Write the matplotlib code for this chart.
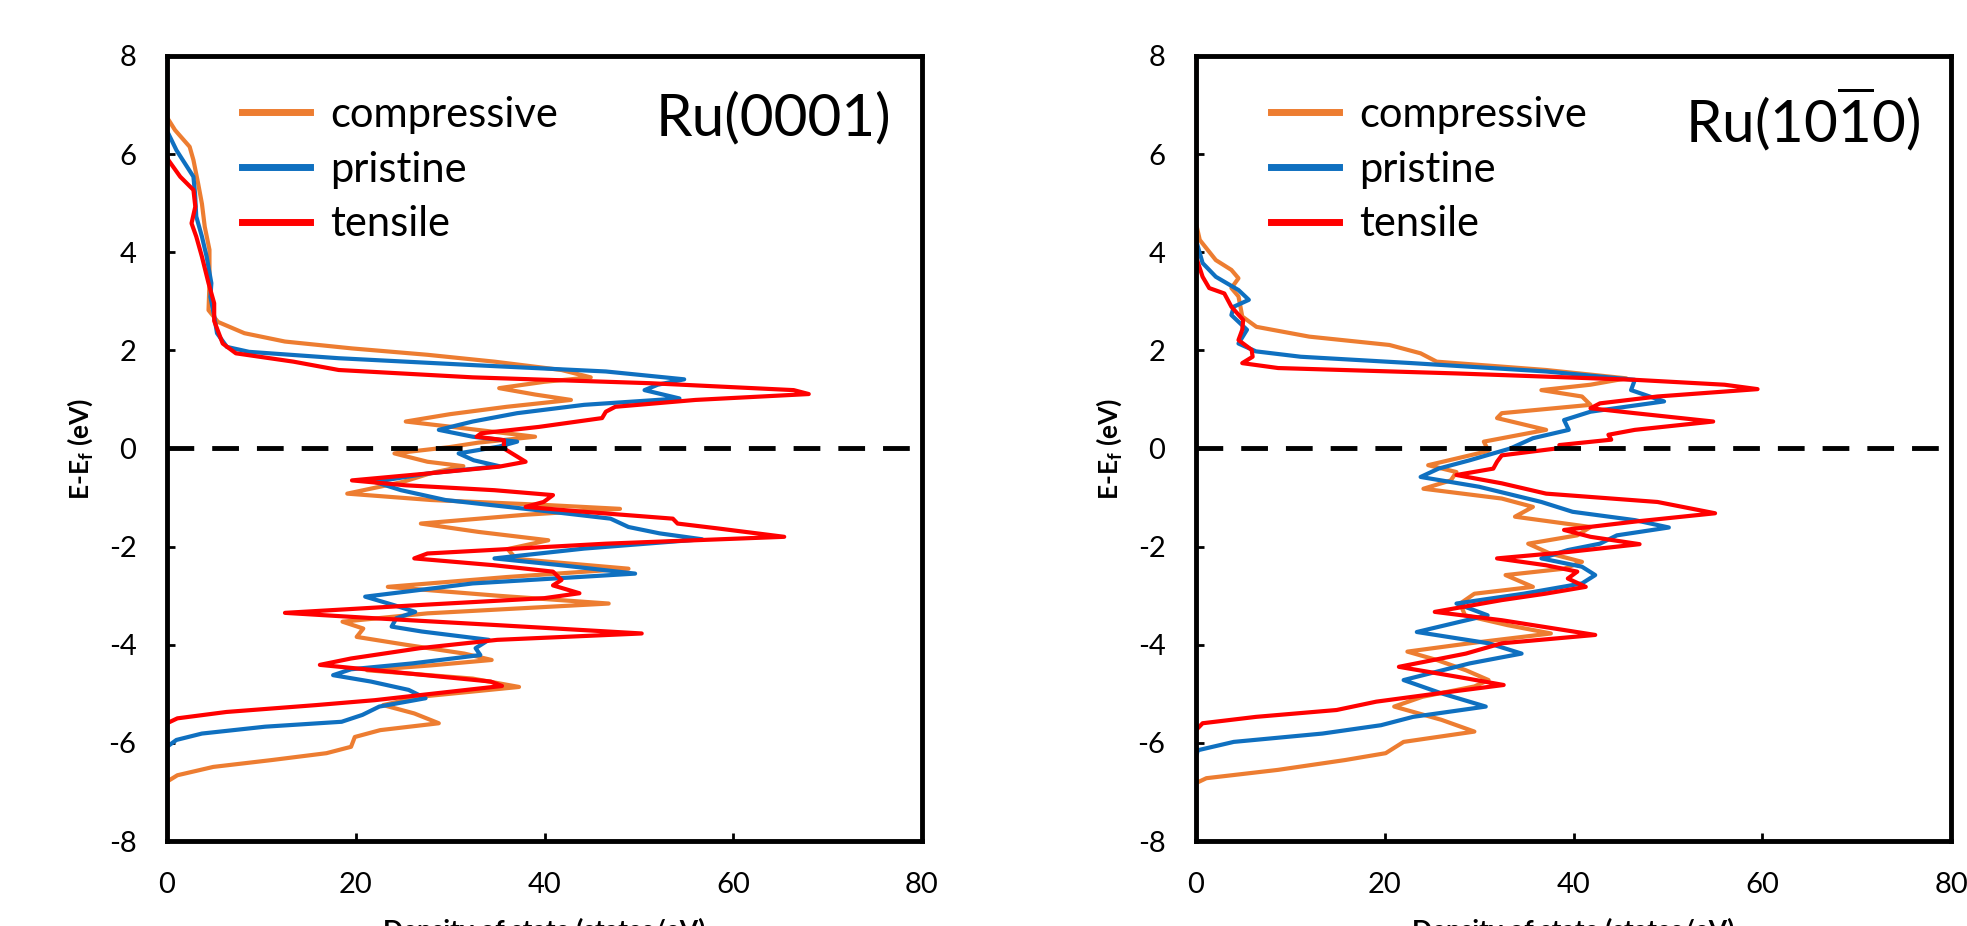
import matplotlib
matplotlib.use("Agg")
import matplotlib.pyplot as plt

plt.rcParams['font.family'] = ['Lato', 'DejaVu Sans']
plt.rcParams['axes.unicode_minus'] = False
plt.rcParams['mathtext.fontset'] = 'custom'
plt.rcParams['mathtext.rm'] = 'Lato'
plt.rcParams['mathtext.bf'] = 'Lato:bold'

# ---- Ru(0001) : energy (eV) and DOS (states/eV) ----
E_0001_comp = [8.0, 6.75, 6.49, 6.15, 5.88, 5.40, 4.99, 4.52, 4.05, 3.37, 2.82, 2.58, 2.35, 2.18,
               2.04, 1.91, 1.77, 1.60, 1.45, 1.36, 1.23, 1.10, 0.99, 0.85, 0.70, 0.55, 0.40, 0.24,
               0.12, 0.03, -0.10, -0.27, -0.36, -0.50, -0.68, -0.92, -1.05, -1.15, -1.23, -1.35,
               -1.53, -1.70, -1.87, -2.05, -2.25, -2.45, -2.62, -2.82, -3.00, -3.16, -3.36, -3.53,
               -3.67, -3.84, -4.00, -4.18, -4.31, -4.42, -4.52, -4.69, -4.86, -5.06, -5.23, -5.40,
               -5.60, -5.74, -5.88, -6.08, -6.21, -6.35, -6.49, -6.66, -6.79, -8.0]
D_0001_comp = [0, 0, 0.85, 2.4, 2.8, 3.3, 3.7, 4.0, 4.5, 4.5, 4.4, 5.4, 8.2, 12.5,
               19.6, 27.6, 34.7, 41.8, 44.9, 40, 35.2, 39, 42.8, 36, 30, 25.3, 32, 39.0,
               33, 30, 24.1, 27.6, 31.4, 28, 25, 19.1, 28, 40, 48.0, 38,
               26.9, 33, 40.4, 36.1, 37, 48.9, 36, 23.4, 35, 46.8, 27.6, 18.6,
               20.8, 20.1, 25.3, 31.5, 34.4, 28, 21.2, 32.4, 37.3, 26.8, 22.9, 26.2,
               28.8, 22.6, 19.9, 19.5, 16.9, 11.1, 4.9, 1.1, 0, 0]

E_0001_pris = [8.0, 6.45, 6.42, 6.08, 5.54, 5.20, 4.73, 4.32, 3.91, 3.37, 3.09, 2.70, 2.35, 2.07,
               1.97, 1.84, 1.70, 1.57, 1.41, 1.30, 1.19, 1.02, 0.89, 0.72, 0.55, 0.38, 0.24, 0.14,
               0.04, -0.10, -0.24, -0.36, -0.51, -0.68, -0.85, -1.05, -1.26, -1.43, -1.60, -1.73,
               -1.85, -2.04, -2.24, -2.38, -2.55, -2.75, -3.02, -3.19, -3.33, -3.46, -3.63, -3.73,
               -3.90, -4.07, -4.21, -4.38, -4.50, -4.62, -4.75, -4.92, -5.09, -5.26, -5.43, -5.57,
               -5.67, -5.81, -5.94, -6.08, -8.0]
D_0001_pris = [0, 0, 0.14, 1.0, 2.8, 2.97, 3.1, 3.7, 4.2, 4.7, 4.6, 5.0, 5.3, 6.35,
               8.7, 18.2, 32.4, 46.5, 54.8, 52, 50.6, 54.3, 44.2, 37.1, 32.4, 28.8, 32.4, 37.1,
               35.2, 30.9, 32.5, 35.2, 27.6, 22.0, 24.8, 29.5, 39.4, 47.0, 48.9, 52.2,
               56.7, 44.2, 34.7, 41.8, 49.6, 32.4, 21.0, 24, 26.3, 24.3, 23.8, 27,
               34.1, 32.7, 33.2, 26, 19.5, 17.6, 21.6, 25.6, 27.4, 22.5, 20.7, 18.5,
               10.4, 3.7, 1.0, 0, 0]

E_0001_tens = [8.0, 5.95, 5.88, 5.54, 5.27, 4.93, 4.59, 4.32, 3.91, 3.37, 2.96, 2.60, 2.14, 1.94,
               1.77, 1.60, 1.45, 1.33, 1.19, 1.11, 0.99, 0.85, 0.75, 0.62, 0.44, 0.31, 0.24, 0.17,
               0.00, -0.27, -0.37, -0.51, -0.65, -0.75, -0.85, -0.95, -1.09, -1.19, -1.29, -1.43,
               -1.53, -1.63, -1.80, -1.94, -2.14, -2.24, -2.38, -2.51, -2.68, -2.79, -2.95, -3.05,
               -3.19, -3.35, -3.46, -3.60, -3.77, -3.90, -4.07, -4.28, -4.41, -4.58, -4.75, -4.84,
               -4.99, -5.13, -5.23, -5.37, -5.50, -5.60, -8.0]
D_0001_tens = [0, 0, 0.14, 1.4, 2.8, 3.0, 2.6, 3.1, 3.7, 4.4, 5.0, 5.0, 5.9, 7.3,
               13.4, 18.2, 32.4, 51.3, 66.4, 68.0, 56.0, 47.5, 46.5, 46.1, 39.4, 33.3, 32.8, 35.7,
               35.7, 38.0, 35.2, 27.6, 19.6, 25.3, 34.7, 40.9, 39.9, 38.0, 44.2, 53.6,
               54.1, 58.4, 65.4, 46.5, 27.6, 26.2, 34.7, 40.9, 41.8, 40.9, 43.7, 40,
               26.8, 12.5, 22, 35.0, 50.3, 35.0, 26.8, 19.5, 16.2, 25.3, 34.3, 35.5,
               28.5, 22, 15.8, 6.3, 1.1, 0, 0]

# ---- Ru(10-10) ----
E_1010_comp = [8.0, 4.59, 4.25, 3.84, 3.64, 3.47, 3.27, 3.10, 2.90, 2.69, 2.48, 2.28, 2.11, 1.94,
               1.77, 1.60, 1.43, 1.30, 1.19, 1.06, 0.89, 0.72, 0.62, 0.38, 0.14, -0.05, -0.34,
               -0.48, -0.65, -0.82, -1.02, -1.19, -1.39, -1.60, -1.77, -1.94, -2.14, -2.31, -2.45,
               -2.58, -2.82, -2.96, -3.16, -3.40, -3.60, -3.77, -3.97, -4.14, -4.31, -4.52, -4.72,
               -4.85, -5.06, -5.26, -5.53, -5.77, -5.98, -6.21, -6.35, -6.55, -6.72, -6.82, -8.0]
D_1010_comp = [0, 0, 0.4, 2.1, 3.75, 4.5, 3.75, 4.5, 4.7, 4.9, 6.4, 12.0, 20.5, 23.8,
               25.5, 37.1, 45.6, 41.8, 36.6, 40.9, 41.8, 32.4, 31.9, 37.1, 30.5, 31, 24.6,
               27.6, 27, 24.1, 32.4, 35.7, 33.8, 41.8, 40.4, 35.2, 37.5, 40.9, 39,
               32.8, 35.7, 29.5, 28, 28.5, 33, 37.6, 29, 22.4, 25.5, 28.6, 31,
               29.5, 24, 21.0, 26, 29.5, 22.0, 20.1, 15.8, 8.7, 1.1, 0, 0]

E_1010_pris = [8.0, 4.25, 3.78, 3.50, 3.23, 3.03, 2.89, 2.72, 2.42, 2.14, 1.98, 1.87, 1.74, 1.57,
               1.40, 1.19, 0.96, 0.75, 0.58, 0.38, 0.21, 0.00, -0.24, -0.41, -0.58, -0.78, -1.09,
               -1.29, -1.46, -1.61, -1.77, -1.94, -2.07, -2.24, -2.41, -2.58, -2.75, -2.96, -3.16,
               -3.40, -3.53, -3.74, -3.97, -4.18, -4.38, -4.72, -4.99, -5.26, -5.47, -5.64, -5.81,
               -5.98, -6.15, -6.28, -8.0]
D_1010_pris = [0, 0, 0.7, 2.1, 4.5, 5.6, 4.0, 3.75, 5.4, 4.5, 6.35, 11.1, 22.9, 37.1,
               46.5, 46.1, 49.6, 41.8, 39.0, 39.5, 35.7, 33.3, 29.0, 25.7, 23.8, 30.0, 36.6,
               39.9, 46.5, 50.1, 44.6, 42.8, 39.4, 36.6, 40.9, 42.3, 40.9, 34.7, 27.6,
               30.9, 28, 23.4, 31, 34.5, 29, 22.0, 26, 30.7, 23, 19.6, 13.4,
               4.0, 0.2, 0, 0]

E_1010_tens = [8.0, 3.91, 3.50, 3.27, 3.16, 2.89, 2.62, 2.42, 2.21, 2.01, 1.87, 1.74, 1.64, 1.53,
               1.40, 1.30, 1.21, 1.06, 0.92, 0.82, 0.72, 0.55, 0.38, 0.28, 0.18, 0.07, 0.03,
               -0.14, -0.27, -0.41, -0.54, -0.71, -0.92, -1.09, -1.32, -1.49, -1.66, -1.80, -1.95,
               -2.11, -2.24, -2.38, -2.51, -2.65, -2.82, -2.96, -3.09, -3.33, -3.50, -3.80, -3.97,
               -4.18, -4.45, -4.65, -4.82, -4.99, -5.16, -5.33, -5.47, -5.60, -5.74, -8.0]
D_1010_tens = [0, 0, 0.7, 1.4, 3.0, 3.75, 5.0, 4.9, 4.5, 5.9, 6.0, 4.9, 8.7, 27.6,
               46.5, 56.0, 59.5, 48.9, 42.8, 41.8, 46.5, 54.8, 46.5, 43.7, 44, 38.5, 39.4,
               32.4, 31.9, 31.5, 27.6, 32.4, 37.1, 48.9, 55.0, 46.5, 39.0, 41.8, 47.0,
               39.4, 31.9, 37.1, 40.4, 39.4, 41.3, 37, 32.4, 25.3, 32.4, 42.3, 32.4,
               28.6, 21.5, 27.6, 32.6, 25.7, 19.1, 14.9, 6.35, 0.7, 0, 0]

labels = ['compressive', 'pristine', 'tensile']
colors = ['#ED7D31', '#0F70C0', '#FF0000']
panels = [
    ('Ru(0001)', [(D_0001_comp, E_0001_comp), (D_0001_pris, E_0001_pris), (D_0001_tens, E_0001_tens)]),
    (r'Ru(10$\overline{\mathrm{1}}$0)', [(D_1010_comp, E_1010_comp), (D_1010_pris, E_1010_pris), (D_1010_tens, E_1010_tens)]),
]

W, H = 1967, 926
fig = plt.figure(figsize=(W / 100, H / 100), dpi=100)
lefts = [167, 1196]

for left, (title, curves) in zip(lefts, panels):
    ax = fig.add_axes([left / W, 85 / H, 755 / W, 785 / H])
    for (d, e), lab, c in zip(curves, labels, colors):
        ax.plot(d, e, color=c, lw=3, label=lab, solid_joinstyle='round')
    ax.axhline(0, color='black', lw=3.5, dashes=(5.5, 3.7), zorder=3)
    ax.set_xlim(0, 80)
    ax.set_ylim(-8, 8)
    ax.set_xticks([0, 20, 40, 60, 80])
    ax.set_yticks(range(-8, 9, 2))
    ax.tick_params(direction='in', length=6, width=2, labelsize=21, pad=22)
    for s in ax.spines.values():
        s.set_linewidth(3.5)
    ax.set_xlabel('Density of state (states/eV)', fontsize=19, fontweight='bold')
    ax.xaxis.set_label_coords(0.5, -0.098)
    ax.set_ylabel(r'E-E$_\mathbf{f}$ (eV)', fontsize=19, fontweight='bold')
    ax.yaxis.set_label_coords(-0.095, 0.5)
    leg = ax.legend(loc='upper left', bbox_to_anchor=(0.099, 0.949), frameon=False,
                    fontsize=30, handlelength=1.63, handletextpad=0.5,
                    labelspacing=0.4, borderpad=0, borderaxespad=0)
    for ln in leg.get_lines():
        ln.set_linewidth(5)
    ax.text(0.959, 0.92, title, transform=ax.transAxes, ha='right', va='center', fontsize=42)

fig.savefig('out.png', dpi=100)
